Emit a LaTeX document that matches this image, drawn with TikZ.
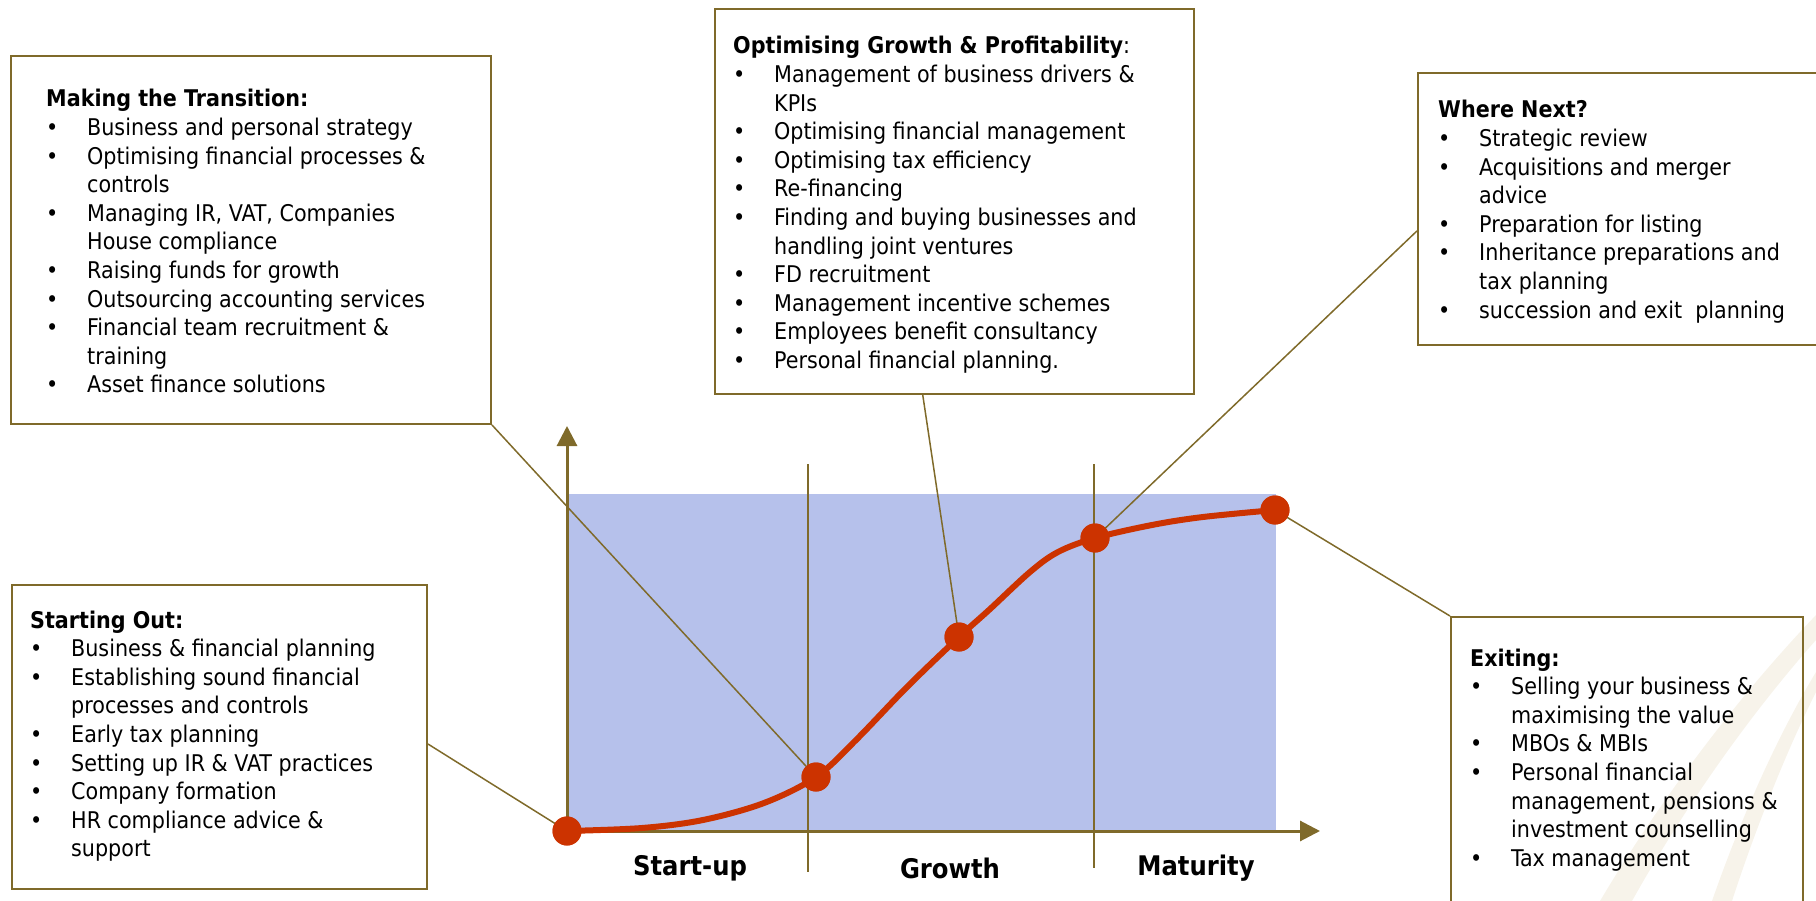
\documentclass[tikz,border=0pt]{standalone}
\usepackage{fontspec}
\setmainfont{DejaVu Sans Condensed}
\usetikzlibrary{arrows.meta,calc}

\definecolor{olivebrd}{HTML}{7F6A2A}
\definecolor{chartblue}{HTML}{B6C1EB}
\definecolor{curvered}{HTML}{CC3300}
\definecolor{swoosh}{HTML}{F7F3EA}

% hanging bullet item
\newlength\hangw
\setlength\hangw{41pt}
\newcommand\itm[1]{\par\hangindent=\hangw\hangafter=1\noindent\makebox[\hangw][l]{\textbullet}#1}
\newcommand\boxtext[2]{\parbox[t]{#1}{\raggedright #2}}

\begin{document}
\begin{tikzpicture}[x=1pt,y=-1pt,
  panel/.style={draw=olivebrd, line width=2pt, inner sep=0pt, anchor=north west},
  paneltext/.style={anchor=base west, inner sep=0pt, font=\fontsize{23}{28.6}\selectfont},
  conn/.style={draw=olivebrd, line width=1.5pt},
  sep/.style={draw=olivebrd, line width=1.8pt},
  axis/.style={draw=olivebrd, line width=3pt, -{Triangle[length=20pt,width=20pt]}},
  stage/.style={font=\fontsize{27}{30}\selectfont\bfseries, inner sep=0pt},
  dot/.style={circle, fill=curvered, minimum size=29pt, inner sep=0pt},
  curve/.style={draw=curvered, line width=6pt, line cap=round}]

\useasboundingbox (0,0) rectangle (1816,901);

% faint background swooshes
\fill[swoosh] (1600,901) .. controls (1660,800) and (1735,700) .. (1816,615)
  -- (1816,640) .. controls (1745,720) and (1680,815) .. (1632,901) -- cycle;
\fill[swoosh] (1712,901) .. controls (1742,815) and (1778,735) .. (1816,672)
  -- (1816,692) .. controls (1786,752) and (1755,830) .. (1732,901) -- cycle;

% chart area
\fill[chartblue] (567,494) rectangle (1276,831);
\draw[sep] (808,464) -- (808,872);
\draw[sep] (1094,464) -- (1094,868);
\draw[axis] (567,831) -- (567,426);
\draw[axis] (567,831) -- (1320,831);

\node[stage] (s1) at (690,868) {Start-up};
\node[stage] (s2) at (950,868) {Growth};
\node[stage] (s3) at (1196,868) {Maturity};

% panels
\node[panel, minimum width=480pt, minimum height=368pt] (b1) at (10,55) {};
\node[panel, minimum width=479pt, minimum height=385pt] (b2) at (714,8) {};
\node[panel, minimum width=430pt, minimum height=272pt] (b3) at (1417,72) {};
\node[panel, minimum width=415pt, minimum height=304pt] (b4) at (11,584) {};
\node[panel, minimum width=352pt, minimum height=320pt] (b5) at (1450,616) {};

\node[paneltext] (t1) at (46,107) {\boxtext{440pt}{%
  \textbf{Making the Transition:}
  \itm{Business and personal strategy}
  \itm{Optimising financial processes \&\newline controls}
  \itm{Managing IR, VAT, Companies\newline House compliance}
  \itm{Raising funds for growth}
  \itm{Outsourcing accounting services}
  \itm{Financial team recruitment \&\newline training}
  \itm{Asset finance solutions}}};

\node[paneltext] (t2) at (733,54) {\boxtext{450pt}{%
  \textbf{Optimising Growth \& Profitability}:
  \itm{Management of business drivers \&\newline KPIs}
  \itm{Optimising financial management}
  \itm{Optimising tax efficiency}
  \itm{Re-financing}
  \itm{Finding and buying businesses and\newline handling joint ventures}
  \itm{FD recruitment}
  \itm{Management incentive schemes}
  \itm{Employees benefit consultancy}
  \itm{Personal financial planning.}}};

\node[paneltext] (t3) at (1438,118) {\boxtext{370pt}{%
  \textbf{Where Next?}
  \itm{Strategic review}
  \itm{Acquisitions and merger\newline advice}
  \itm{Preparation for listing}
  \itm{Inheritance preparations and\newline tax planning}
  \itm{succession and exit\ \ planning}}};

\node[paneltext] (t4) at (30,628) {\boxtext{390pt}{%
  \textbf{Starting Out:}
  \itm{Business \& financial planning}
  \itm{Establishing sound financial\newline processes and controls}
  \itm{Early tax planning}
  \itm{Setting up IR \& VAT practices}
  \itm{Company formation}
  \itm{HR compliance advice \&\newline support}}};

\node[paneltext] (t5) at (1470,666) {\boxtext{330pt}{%
  \textbf{Exiting:}
  \itm{Selling your business \&\newline maximising the value}
  \itm{MBOs \& MBIs}
  \itm{Personal financial\newline management, pensions \&\newline investment counselling}
  \itm{Tax management}}};

% milestones on the curve
\node[dot] (d1) at (567,831) {};
\node[dot] (d2) at (816,777) {};
\node[dot] (d3) at (959,637) {};
\node[dot] (d4) at (1095,538) {};
\node[dot] (d5) at (1275,510) {};

% leader lines
\draw[conn] (b1.south east) -- (d2.center);
\draw[conn] ($(b2.south west)!0.434!(b2.south east)$) -- (d3.center);
\draw[conn] ($(b3.north west)!0.58!(b3.south west)$) -- (d4.center);
\draw[conn] ($(b4.north east)!0.523!(b4.south east)$) -- (d1.center);
\draw[conn] (b5.north west) -- (d5.center);

% growth curve
\draw[curve] plot[smooth, tension=0.55] coordinates {(d1.center) (642,828) (703,820) (764,803)
  (d2.center) (856,740) (907,687) (d3.center) (989,610) (1030,572) (1058,552)
  (d4.center) (1152,525) (1203,517) (d5.center)};

\foreach \d in {d1,d2,d3,d4,d5} \fill[curvered] (\d) circle (14.5pt);

\end{tikzpicture}
\end{document}
